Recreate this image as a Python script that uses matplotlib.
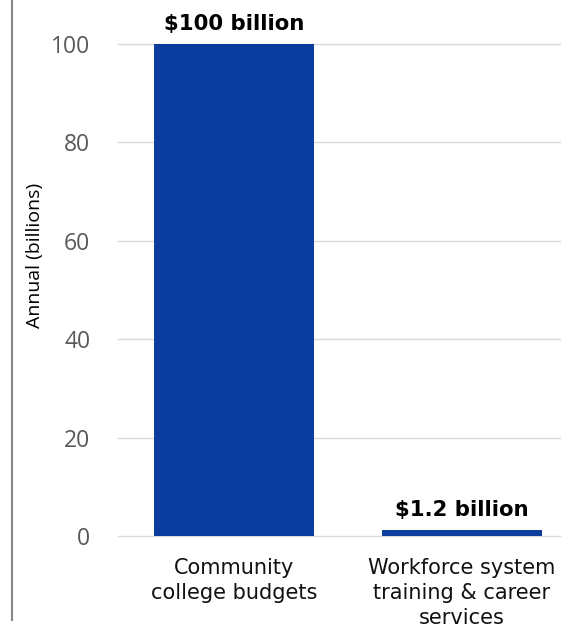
import matplotlib
matplotlib.use("Agg")
import matplotlib.pyplot as plt
from matplotlib.lines import Line2D

categories = ["Community\ncollege budgets", "Workforce system\ntraining & career\nservices"]
values = [100, 1.2]
value_labels = ["$100 billion", "$1.2 billion"]
yticks = [0, 20, 40, 60, 80, 100]
ylabel = "Annual (billions)"

fig = plt.figure(figsize=(5.77, 6.32), dpi=100)
W, H = 577, 632
ax = fig.add_axes([118 / W, (H - 536) / H, 442 / W, 492 / H])

x = list(range(len(categories)))
bars = ax.bar(x, values, width=0.70, color="#0A3D9E", zorder=3)
ax.set_xlim(-0.51, 1.43)
ax.set_ylim(0, 100)
ax.set_yticks(yticks)
ax.set_yticklabels([str(t) for t in yticks], fontsize=16.5, color="#595959", family="Open Sans")
ax.tick_params(axis="y", length=0, pad=20)
ax.set_xticks(x)
ax.set_xticklabels(categories, fontsize=15, color="#111111", family="DejaVu Sans", linespacing=1.3, va="top")
ax.tick_params(axis="x", length=0, pad=16)
ax.grid(axis="y", color="#D9D9D9", linewidth=1, zorder=0)
for gl in ax.get_ygridlines():
    gl.set_clip_on(False)
for s in ax.spines.values():
    s.set_visible(False)

for b, lab in zip(bars, value_labels):
    ax.annotate(lab, (b.get_x() + b.get_width() / 2, b.get_height()), xytext=(0, 7),
                textcoords="offset points", ha="center", va="bottom",
                fontsize=15.3, fontweight="bold", color="#000000", family="DejaVu Sans",
                annotation_clip=False)

fig.text(35 / W, 1 - 255 / H, ylabel, rotation=90, ha="center", va="center",
         fontsize=14, color="#000000", family="Open Sans")

fig.add_artist(Line2D([12 / W, 12 / W], [1 - 0 / H, 1 - 620 / H], transform=fig.transFigure,
                      color="#888888", linewidth=1.5))

fig.savefig("out.png", dpi=100)
